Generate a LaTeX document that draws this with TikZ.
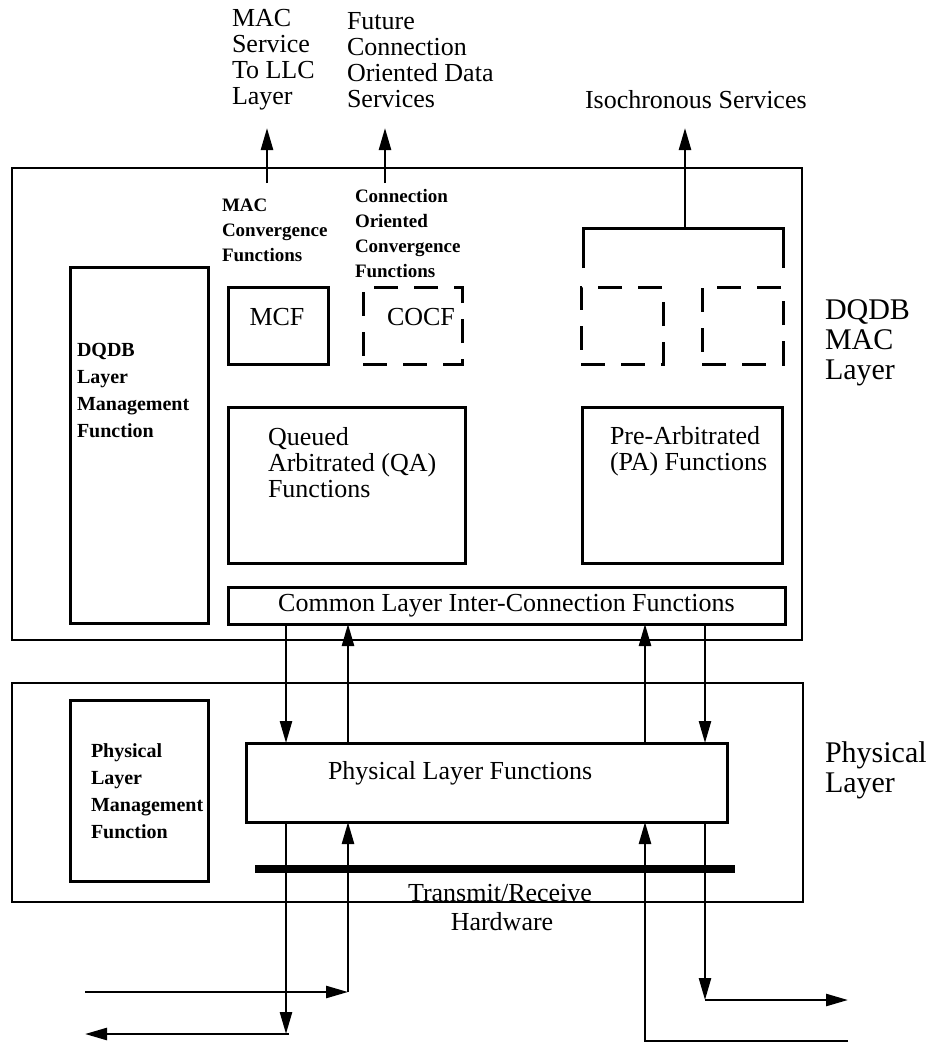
\documentclass[tikz,border=0pt]{standalone}
\usepackage{fontspec}
\setmainfont{Liberation Serif}
\usetikzlibrary{arrows.meta, positioning, fit, calc}

\begin{document}
\begin{tikzpicture}[
    x=1pt, y=-1pt,
    every node/.style={inner sep=0pt, outer sep=0pt},
    lbl/.style={font=\fontsize{26}{26}\selectfont, align=left},
    side/.style={font=\fontsize{30}{30}\selectfont, align=left},
    note/.style={font=\bfseries\fontsize{19}{25}\selectfont, align=left},
    mgmt/.style={font=\bfseries\fontsize{20}{27}\selectfont, align=left},
    layerbox/.style={draw, line width=2.5pt},
    fbox/.style={draw, line width=3pt},
    dbox/.style={draw, line width=3pt, dash pattern=on 24pt off 16pt},
    wire/.style={line width=2.5pt},
    arr/.style={-{Triangle[length=22pt,width=12pt]}, line width=2.5pt},
  ]
    \useasboundingbox (0,0) rectangle (935,1045);
    \node[layerbox, fit={(12,168) (802,640)}] (mac) {};
    \node[layerbox, fit={(12,683) (803,902)}] (phy) {};
    \node[fbox, fit={(70,267) (208,623)}] (dqdbm) {};
    \node[fbox, fit={(228,287) (328,364)}] (mcf) {};
    \node[dbox, fit={(363,287) (462,364)}] (cocf) {};
    \node[dbox, fit={(581,287) (663,364)}] (isoA) {};
    \node[dbox, fit={(702,287) (783,364)}] (isoB) {};
    \node[fbox, fit={(228,407) (465,563)}] (qa) {};
    \node[fbox, fit={(582,407) (782,563)}] (pa) {};
    \node[fbox, fit={(228,587) (785,624)}] (common) {};
    \node[fbox, fit={(70,700) (208,881)}] (phym) {};
    \node[fbox, fit={(246,743) (727,822)}] (plf) {};
    % texts
    \node[lbl, anchor=west] (svc) at (232,60) {MAC\\Service\\To LLC\\Layer};
    \node[lbl, anchor=west] (fut) at (347,60) {Future\\Connection\\Oriented Data\\Services};
    \node[lbl, anchor=west] (iso) at (585,100) {Isochronous Services};
    \node[note, anchor=west] (mcfn) at (222,230) {MAC\\Convergence\\Functions};
    \node[note, anchor=west] (cocfn) at (355,234) {Connection\\Oriented\\Convergence\\Functions};
    \node[lbl] (mcft) at (277,317) {MCF};
    \node[lbl] (cocft) at (421,317) {COCF};
    \node[mgmt, anchor=west] (dqdbmt) at (77,390) {DQDB\\Layer\\Management\\Function};
    \node[lbl, anchor=west, text depth=0pt] (qat) at (268,462) {Queued\\Arbitrated (QA)\\Functions};
    \node[lbl, anchor=west] (pat) at (610,451) {Pre-Arbitrated\\(PA) Functions};
    \node[lbl] (commont) at (common.center) {Common Layer Inter-Connection Functions};
    \node[side, anchor=west] (macl) at (825,343) {DQDB\\MAC\\Layer};
    \node[mgmt, anchor=west] (phymt) at (91,791) {Physical\\Layer\\Management\\Function};
    \node[lbl, anchor=west] (plft) at (328,773) {Physical Layer Functions};
    \node[side, anchor=west] (phyl) at (825,770) {Physical\\Layer};
    \node[lbl] (trx) at (500,893) {Transmit/Receive};
    \node[lbl] (hw) at (502,922) {Hardware};
    % upward services
    \coordinate (mcfup) at (267,183);
    \coordinate (cocfup) at (385,183);
    \draw[arr] (mcfup) -- (mcfup |- 0,128);
    \draw[arr] (cocfup) -- (cocfup |- 0,128);
    \coordinate (brL) at (583,268);
    \coordinate (brR) at (783,268);
    \coordinate (brtop) at (685,228);
    \draw[line width=3pt] (brL) |- (brtop) -| (brR);
    \draw[arr] (brtop) -- (brtop |- 0,128);
    % inter-layer connectors
    \path (286,0) coordinate (dnA) (348,0) coordinate (upA)
          (645,0) coordinate (upB) (705,0) coordinate (dnB);
    \foreach \c in {dnA, dnB}
      \draw[arr] (\c |- common.south) -- (\c |- plf.north);
    \foreach \c in {upA, upB}
      \draw[arr] (\c |- plf.north) -- (\c |- common.south);
    % transmit/receive bar
    \coordinate (barL) at (255,869);
    \coordinate (barR) at (735,869);
    \draw[line width=8pt] (barL) -- (barR);
    % bus connections
    \coordinate (inL) at (85,992);
    \coordinate (outL) at (85,1034);
    \coordinate (inR) at (848,1041);
    \coordinate (outR) at (848,1000);
    \draw[arr] (inL) -- (inL -| upA);
    \draw[arr] (inL -| upA) -- (upA |- plf.south);
    \draw[arr] (dnA |- plf.south) -- (dnA |- outL);
    \draw[arr] ($(dnA |- outL)+(3,0)$) -- (outL);
    \draw[arr] (dnB |- plf.south) -- (dnB |- outR);
    \draw[arr] (dnB |- outR) -- (outR);
    \draw[arr] (inR) -- (inR -| upB) -- (upB |- plf.south);
\end{tikzpicture}
\end{document}
